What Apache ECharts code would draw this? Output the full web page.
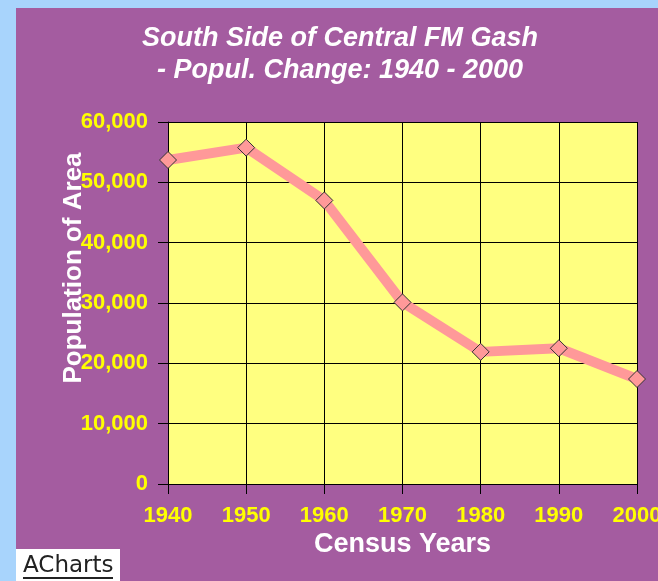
<!DOCTYPE html>
<html>
<head>
<meta charset="utf-8">
<script src="https://cdn.jsdelivr.net/npm/echarts@6/dist/echarts.min.js"></script>
<style>
  html, body { margin: 0; padding: 0; background: #a8d4fc; }
  #main { width: 658px; height: 581px; }
</style>
</head>
<body>
<div id="main"></div>
<script>
// census years and population
var years = ['1940', '1950', '1960', '1970', '1980', '1990', '2000'];
var population = [53700, 55750, 47000, 30100, 21900, 22500, 17400];
var yTicks = [0, 10000, 20000, 30000, 40000, 50000, 60000];

var FONT = '"Liberation Sans", Arial, sans-serif';

var myChart = echarts.init(document.getElementById('main'));

var option = {
    backgroundColor: '#a8d4fc',
    animation: false,
    title: {
        text: 'South Side of Central FM Gash\n- Popul. Change: 1940 - 2000',
        left: 335,
        top: 18,
        textAlign: 'center',
        textStyle: {
            color: '#ffffff',
            fontFamily: FONT,
            fontSize: 27,
            fontWeight: 'bold',
            fontStyle: 'italic',
            lineHeight: 32
        }
    },
    graphic: [
        // purple panel behind everything
        {
            type: 'rect', z: -100, silent: true,
            shape: { x: 16, y: 8, width: 642, height: 573 },
            style: { fill: '#a45ca0' }
        },
        // ACharts badge
        {
            type: 'rect', z: 10, silent: true,
            shape: { x: 16, y: 549, width: 104, height: 32 },
            style: { fill: '#ffffff' }
        },
        {
            type: 'text', z: 11, silent: true,
            x: 23, y: 566,
            style: {
                text: 'ACharts',
                fill: '#222222',
                font: '23px "DejaVu Sans", sans-serif',
                verticalAlign: 'middle'
            }
        },
        {
            type: 'line', z: 11, silent: true,
            shape: { x1: 23, y1: 578, x2: 113, y2: 578 },
            style: { stroke: '#222222', lineWidth: 2 }
        }
    ],
    grid: {
        left: 168,
        right: 21,
        top: 122,
        bottom: 97,
        outerBoundsMode: 'none',
        show: true,
        backgroundColor: '#ffff80',
        borderWidth: 0
    },
    xAxis: {
        type: 'category',
        data: years,
        boundaryGap: false,
        name: 'Census Years',
        nameLocation: 'middle',
        nameGap: 47,
        nameMoveOverlap: false,
        nameTextStyle: {
            color: '#ffffff', fontFamily: FONT, fontSize: 27, fontWeight: 'bold'
        },
        axisLine: { lineStyle: { color: '#000000', width: 1 } },
        axisTick: { show: true, length: 10, lineStyle: { color: '#000000' } },
        axisLabel: {
            color: '#ffff00', fontFamily: FONT, fontSize: 22, fontWeight: 'bold',
            margin: 21
        },
        splitLine: { show: true, lineStyle: { color: '#000000', width: 1 } }
    },
    yAxis: {
        type: 'value',
        min: yTicks[0],
        max: yTicks[yTicks.length - 1],
        interval: yTicks[1] - yTicks[0],
        name: 'Population of Area',
        nameLocation: 'middle',
        nameRotate: 90,
        nameGap: 81,
        nameMoveOverlap: false,
        nameTextStyle: {
            color: '#ffffff', fontFamily: FONT, fontSize: 26, fontWeight: 'bold',
            padding: [0, 0, 0, 70]
        },
        axisLine: { show: true, lineStyle: { color: '#000000', width: 1 } },
        axisTick: { show: true, length: 10, lineStyle: { color: '#000000' } },
        axisLabel: {
            color: '#ffff00', fontFamily: FONT, fontSize: 22, fontWeight: 'bold',
            margin: 20,
            formatter: function (v) { return v.toLocaleString('en-US'); }
        },
        splitLine: { show: true, lineStyle: { color: '#000000', width: 1 } }
    },
    series: [
        {
            name: 'Population',
            type: 'line',
            data: population,
            symbol: 'diamond',
            symbolSize: 17,
            lineStyle: { color: '#ff9999', width: 10 },
            itemStyle: { color: '#ff9999', borderColor: '#333333', borderWidth: 1 }
        }
    ]
};

myChart.setOption(option);
</script>
</body>
</html>
